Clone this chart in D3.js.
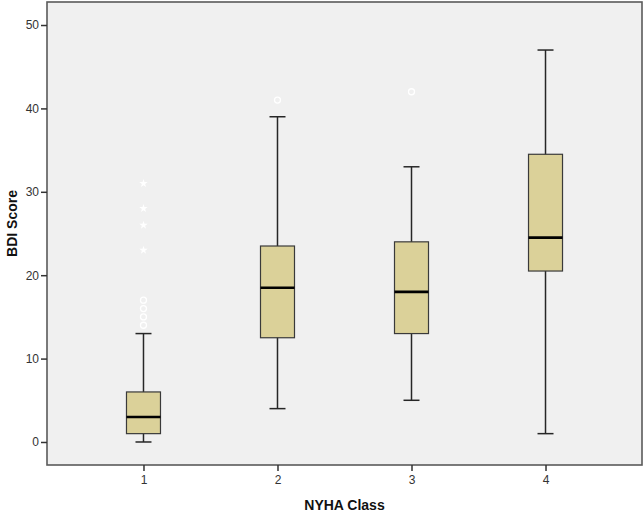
<!DOCTYPE html>
<head>
<meta charset="utf-8">
<title>BDI by NYHA class</title>
<script src="https://d3js.org/d3.v7.min.js"></script>
<style type="text/css">
body { margin: 0; background: #fff; }
text { font-family: "Liberation Sans", Arial, sans-serif; }
</style>
</head>
<body>
<script type="text/javascript">

// data
const classes = ["1", "2", "3", "4"];
const whiskerLow = [0, 4, 5, 1];
const q1 = [1, 12.5, 13, 20.5];
const median = [3, 18.5, 18, 24.5];
const q3 = [6, 23.5, 24, 34.5];
const whiskerHigh = [13, 39, 33, 47];
const circleOutliers = [[14, 15, 16, 17], [41], [42], []];
const starOutliers = [[23, 26, 28, 31], [], [], []];
const yTicks = [0, 10, 20, 30, 40, 50];

// sizes (plot frame edges)
const svgW = 644, svgH = 513;
const frameL = 47, frameR = 642, frameT = 2, frameB = 465;
const boxW = 34, capW = 16;

const svg = d3.select("body").append("svg")
    .attr("width", svgW)
    .attr("height", svgH);

const x = d3.scalePoint().domain(classes).range([frameL, frameR]).padding(0.72);
const y = d3.scaleLinear().domain([-2.76, 52.76]).range([frameB, frameT]);

// plot background
svg.append("rect")
    .attr("x", frameL).attr("y", frameT)
    .attr("width", frameR - frameL).attr("height", frameB - frameT)
    .attr("fill", "#f0f0f0");

const rows = classes.map((c, i) => ({
    c: c, lo: whiskerLow[i], q1: q1[i], med: median[i], q3: q3[i], hi: whiskerHigh[i],
    circ: circleOutliers[i], star: starOutliers[i]
}));

const g = svg.selectAll("g.box").data(rows).enter().append("g")
    .attr("class", "box")
    .attr("transform", d => "translate(" + x(d.c) + ",0)");

// whiskers
g.append("line").attr("x1", 0).attr("x2", 0)
    .attr("y1", d => y(d.hi)).attr("y2", d => y(d.lo))
    .attr("stroke", "#262626").attr("stroke-width", 1.5);
g.append("line").attr("x1", -capW / 2).attr("x2", capW / 2)
    .attr("y1", d => y(d.hi)).attr("y2", d => y(d.hi))
    .attr("stroke", "#262626").attr("stroke-width", 1.5);
g.append("line").attr("x1", -capW / 2).attr("x2", capW / 2)
    .attr("y1", d => y(d.lo)).attr("y2", d => y(d.lo))
    .attr("stroke", "#262626").attr("stroke-width", 1.5);

// boxes
g.append("rect")
    .attr("x", -boxW / 2).attr("width", boxW)
    .attr("y", d => y(d.q3)).attr("height", d => y(d.q1) - y(d.q3))
    .attr("fill", "#dbd199").attr("stroke", "#3a3a3a").attr("stroke-width", 1.2);
g.append("line").attr("x1", -boxW / 2).attr("x2", boxW / 2)
    .attr("y1", d => y(d.med)).attr("y2", d => y(d.med))
    .attr("stroke", "#000").attr("stroke-width", 2.6);

// outliers (white)
g.selectAll("circle.out").data(d => d.circ).enter().append("circle")
    .attr("cx", 0).attr("cy", v => y(v)).attr("r", 3)
    .attr("fill", "none").attr("stroke", "#fff").attr("stroke-width", 1.3);
g.selectAll("path.star").data(d => d.star).enter().append("path")
    .attr("transform", v => "translate(0," + y(v) + ")")
    .attr("d", d3.symbol(d3.symbolStar, 22))
    .attr("fill", "#fff");

// frame
svg.append("rect")
    .attr("x", frameL).attr("y", frameT)
    .attr("width", frameR - frameL).attr("height", frameB - frameT)
    .attr("fill", "none").attr("stroke", "#5a5a5a").attr("stroke-width", 1.6);

// axes
const yAxis = svg.append("g")
    .attr("transform", "translate(" + frameL + ",0)")
    .call(d3.axisLeft(y).tickValues(yTicks).tickSize(6).tickPadding(2));
const xAxis = svg.append("g")
    .attr("transform", "translate(0," + frameB + ")")
    .call(d3.axisBottom(x).tickSize(6).tickPadding(4));
[yAxis, xAxis].forEach(a => {
    a.select(".domain").remove();
    a.selectAll(".tick line").attr("stroke", "#333").attr("stroke-width", 1.5);
    a.selectAll(".tick text").attr("fill", "#333").style("font-size", "12px")
        .style("font-family", "'Liberation Sans', Arial, sans-serif");
});

// axis titles
svg.append("text")
    .attr("x", (frameL + frameR) / 2).attr("y", 510)
    .attr("text-anchor", "middle")
    .style("font-size", "14px").style("font-weight", "bold").attr("fill", "#111")
    .text("NYHA Class");
svg.append("text")
    .attr("transform", "translate(17," + ((frameT + frameB) / 2 - 10) + ") rotate(-90)")
    .attr("text-anchor", "middle")
    .style("font-size", "14px").style("font-weight", "bold").attr("fill", "#111")
    .text("BDI Score");

</script>
</body>
